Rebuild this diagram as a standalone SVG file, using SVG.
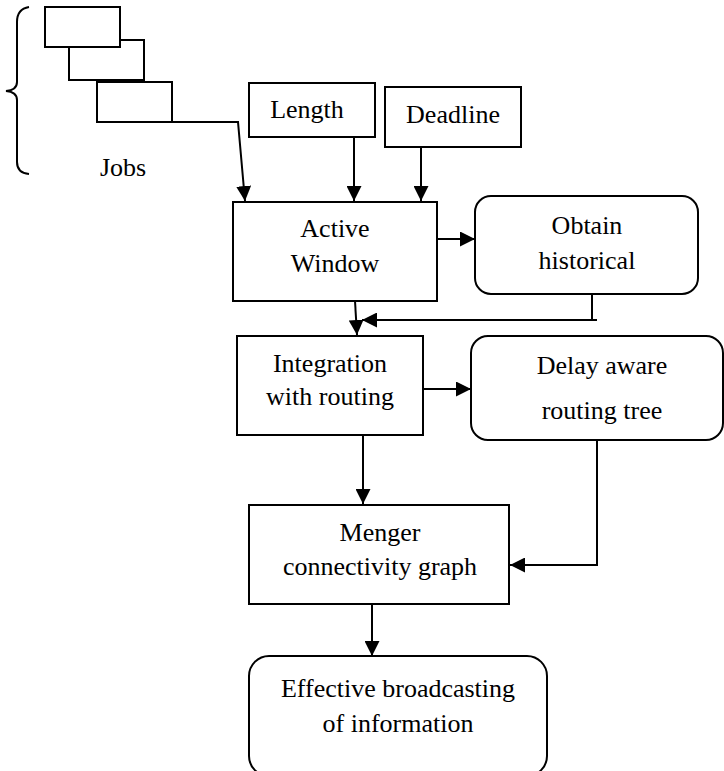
<svg xmlns="http://www.w3.org/2000/svg" width="724" height="771" viewBox="0 0 724 771">
  <style>
    .box { fill: #fff; stroke: #000; stroke-width: 2; }
    .lbl { font-family: "Liberation Serif", "Times New Roman", serif; font-size: 26px; fill: #000; text-anchor: middle; }
    .wire { fill: none; stroke: #000; stroke-width: 2; }
    .arrow { fill: none; stroke: #000; stroke-width: 2; marker-end: url(#head); }
  </style>
  <defs>
    <marker id="head" viewBox="0 0 15 15" refX="15" refY="7.5" markerWidth="15" markerHeight="15" markerUnits="userSpaceOnUse" orient="auto">
      <path d="M0,0 L15,7.5 L0,15 Z" fill="#000"/>
    </marker>
  </defs>
  <rect width="724" height="771" fill="#fff"/>

  <!-- job stack with brace; the first card sits on top of the second -->
  <g id="jobs">
    <path class="wire" d="M29,7 Q17,9 17,22 L17,82 Q17,90 6,91 Q17,92 17,100 L17,162 Q17,173 29,174"/>
    <rect class="box" x="69" y="40" width="75" height="40"/>
    <rect class="box" x="97" y="82" width="75" height="40"/>
    <rect class="box" x="45" y="7" width="75" height="40"/>
    <text class="lbl" x="123" y="176">Jobs</text>
  </g>

  <g id="length">
    <rect class="box" x="249" y="83" width="126" height="54"/>
    <text class="lbl" x="307" y="118">Length</text>
  </g>

  <g id="deadline">
    <rect class="box" x="385" y="87" width="136" height="60"/>
    <text class="lbl" x="453" y="123">Deadline</text>
  </g>

  <g id="active-window">
    <rect class="box" x="233" y="202" width="204" height="99"/>
    <text class="lbl" x="335" y="237">Active</text>
    <text class="lbl" x="335" y="272">Window</text>
  </g>

  <g id="obtain-historical">
    <rect class="box" x="475" y="196" width="223" height="98" rx="16"/>
    <text class="lbl" x="587" y="234">Obtain</text>
    <text class="lbl" x="587" y="269">historical</text>
  </g>

  <g id="integration">
    <rect class="box" x="237" y="336" width="186" height="99"/>
    <text class="lbl" x="330" y="372">Integration</text>
    <text class="lbl" x="330" y="405">with routing</text>
  </g>

  <g id="delay-aware">
    <rect class="box" x="471" y="336" width="252" height="104" rx="17"/>
    <text class="lbl" x="602" y="374">Delay aware</text>
    <text class="lbl" x="602" y="419">routing tree</text>
  </g>

  <g id="menger">
    <rect class="box" x="249" y="505" width="260" height="99"/>
    <text class="lbl" x="380" y="541">Menger</text>
    <text class="lbl" x="380" y="575">connectivity graph</text>
  </g>

  <g id="broadcast">
    <rect class="box" x="249" y="656" width="298" height="120" rx="20"/>
    <text class="lbl" x="398" y="697">Effective broadcasting</text>
    <text class="lbl" x="398" y="732">of information</text>
  </g>

  <g id="connectors">
    <path class="arrow" d="M172,122 L238,122 L245,201"/>
    <path class="arrow" d="M354,137 L354,201"/>
    <path class="arrow" d="M421,147 L421,201"/>
    <path class="arrow" d="M437,239 L475,239"/>
    <path class="wire" d="M592,294 L592,320 L597,320"/>
    <path class="arrow" d="M597,320 L362,320"/>
    <path class="arrow" d="M355,301 L357,335"/>
    <path class="arrow" d="M423,389 L471,389"/>
    <path class="arrow" d="M363,435 L363,504"/>
    <path class="arrow" d="M597,440 L597,565 L510,565"/>
    <path class="arrow" d="M372,604 L372,656"/>
  </g>
</svg>
